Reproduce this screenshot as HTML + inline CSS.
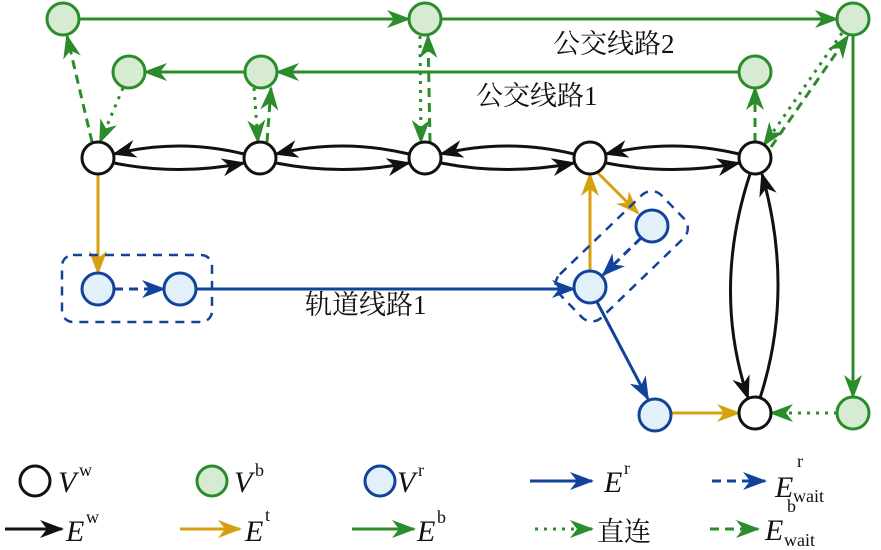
<!DOCTYPE html>
<html><head><meta charset="utf-8"><style>
body{margin:0;background:#fff}
svg{display:block}
.t{font-family:"Liberation Serif","Noto Serif CJK SC",serif;font-size:27px;fill:#111}
.m{font-family:"Liberation Serif",serif;font-style:italic;font-size:30px;fill:#111}
.s{font-family:"Liberation Serif",serif;font-size:18px;fill:#111}
</style></head><body>
<svg width="881" height="550" viewBox="0 0 881 550" xmlns="http://www.w3.org/2000/svg">
<defs>
<marker id="ak" markerWidth="24" markerHeight="18" refX="22" refY="9" orient="auto" markerUnits="userSpaceOnUse"><path d="M0,0 L24,9 L0,18 L7,9 z" fill="#111"/></marker>
<marker id="ag" markerWidth="24" markerHeight="18" refX="22" refY="9" orient="auto" markerUnits="userSpaceOnUse"><path d="M0,0 L24,9 L0,18 L7,9 z" fill="#2a8c2a"/></marker>
<marker id="ab" markerWidth="24" markerHeight="18" refX="22" refY="9" orient="auto" markerUnits="userSpaceOnUse"><path d="M0,0 L24,9 L0,18 L7,9 z" fill="#12439a"/></marker>
<marker id="ay" markerWidth="24" markerHeight="18" refX="22" refY="9" orient="auto" markerUnits="userSpaceOnUse"><path d="M0,0 L24,9 L0,18 L7,9 z" fill="#d6a00e"/></marker>
</defs>
<g fill="none" stroke-width="3">
<g stroke="#2a8c2a" marker-end="url(#ag)">
<path d="M79,19 H409"/><path d="M441,19 H837"/><path d="M853,35 V397"/>
<path d="M739,72 H277"/><path d="M245,72 H145"/>
</g>
<g stroke="#2a8c2a" stroke-dasharray="9,6" marker-end="url(#ag)">
<path d="M92,142 L67,36"/><path d="M267,142 L271,88"/><path d="M430,142 L428,36"/><path d="M755,142 V88"/><path d="M771,147 L848,36"/>
</g>
<g stroke="#2a8c2a" stroke-dasharray="3,6" marker-end="url(#ag)">
<path d="M123,88 L100,142"/><path d="M254,88 L258,142"/><path d="M420,36 L421,142"/><path d="M842,33 L764,145"/><path d="M837,413 H771"/>
</g>
<g stroke="#111" marker-end="url(#ak)">
<path d="M244,154 Q179,138 114,154"/><path d="M114,163 Q179,176 244,163"/>
<path d="M409,154 Q342,138 276,154"/><path d="M276,163 Q342,176 409,163"/>
<path d="M574,154 Q507,138 441,154"/><path d="M441,163 Q507,176 574,163"/>
<path d="M739,154 Q672,138 606,154"/><path d="M606,163 Q672,176 739,163"/>
<path d="M750,174 Q712,290 748,398"/><path d="M760,398 Q795,290 762,174"/>
</g>
<g stroke="#d6a00e" marker-end="url(#ay)">
<path d="M98,174 V273"/><path d="M590,271 V174"/><path d="M597,172 L638,213"/><path d="M671,413 H739"/>
</g>
<g stroke="#12439a" marker-end="url(#ab)">
<path d="M114,289 H164" stroke-dasharray="9,6"/><path d="M196,289 H574"/>
<path d="M641,238 L603,275" stroke-dasharray="9,6"/><path d="M597,302 L648,399"/>
</g>
<g stroke="#12439a" stroke-width="2.5" stroke-dasharray="9,7">
<rect x="62" y="255" width="150" height="67" rx="11"/>
<rect x="551" y="227" width="142" height="60" rx="14" transform="rotate(-44 621 257)"/>
</g>
<g stroke="#111" fill="#fff">
<circle cx="98" cy="158" r="16"/><circle cx="260" cy="158" r="16"/><circle cx="425" cy="158" r="16"/><circle cx="590" cy="158" r="16"/><circle cx="755" cy="158" r="16"/><circle cx="755" cy="413" r="16"/>
</g>
<g stroke="#2a8c2a" fill="#d6ebd2">
<circle cx="63" cy="19" r="16"/><circle cx="425" cy="19" r="16"/><circle cx="853" cy="19" r="16"/>
<circle cx="129" cy="72" r="16"/><circle cx="261" cy="72" r="16"/><circle cx="755" cy="72" r="16"/><circle cx="853" cy="413" r="16"/>
</g>
<g stroke="#12439a" fill="#e2f0fa">
<circle cx="98" cy="289" r="16"/><circle cx="180" cy="289" r="16"/><circle cx="590" cy="287" r="16"/><circle cx="652" cy="226" r="16"/><circle cx="655" cy="415" r="16"/>
</g>
<circle cx="35" cy="481" r="15" stroke="#111" fill="#fff"/>
<circle cx="212" cy="481" r="15" stroke="#2a8c2a" fill="#d6ebd2"/>
<circle cx="380" cy="481" r="15" stroke="#12439a" fill="#e2f0fa"/>
<path d="M530,481 H592" stroke="#12439a" marker-end="url(#ab)"/>
<path d="M712,481 H765" stroke="#12439a" stroke-dasharray="9,6" marker-end="url(#ab)"/>
<path d="M5,529 H62" stroke="#111" marker-end="url(#ak)"/>
<path d="M180,529 H240" stroke="#d6a00e" marker-end="url(#ay)"/>
<path d="M352,529 H414" stroke="#2a8c2a" marker-end="url(#ag)"/>
<path d="M535,529 H592" stroke="#2a8c2a" stroke-dasharray="3,6" marker-end="url(#ag)"/>
<path d="M710,529 H758" stroke="#2a8c2a" stroke-dasharray="9,6" marker-end="url(#ag)"/>
</g>
<text class="t" x="553" y="53">公交线路2</text>
<text class="t" x="476" y="105">公交线路1</text>
<text class="t" x="305" y="314">轨道线路1</text>
<text class="m" x="58" y="492">V</text><text class="s" x="79" y="476">w</text>
<text class="m" x="234" y="492">V</text><text class="s" x="255" y="476">b</text>
<text class="m" x="397" y="492">V</text><text class="s" x="418" y="476">r</text>
<text class="m" x="604" y="492">E</text><text class="s" x="624" y="474">r</text>
<text class="m" x="775" y="497">E</text><text class="s" x="797" y="467">r</text><text class="s" x="793" y="502">wait</text>
<text class="m" x="66" y="541">E</text><text class="s" x="86" y="523">w</text>
<text class="m" x="245" y="541">E</text><text class="s" x="265" y="521">t</text>
<text class="m" x="417" y="541">E</text><text class="s" x="437" y="523">b</text>
<text class="t" x="597" y="541">直连</text>
<text class="m" x="765" y="540">E</text><text class="s" x="787" y="512">b</text><text class="s" x="784" y="546">wait</text>
</svg>
</body></html>
